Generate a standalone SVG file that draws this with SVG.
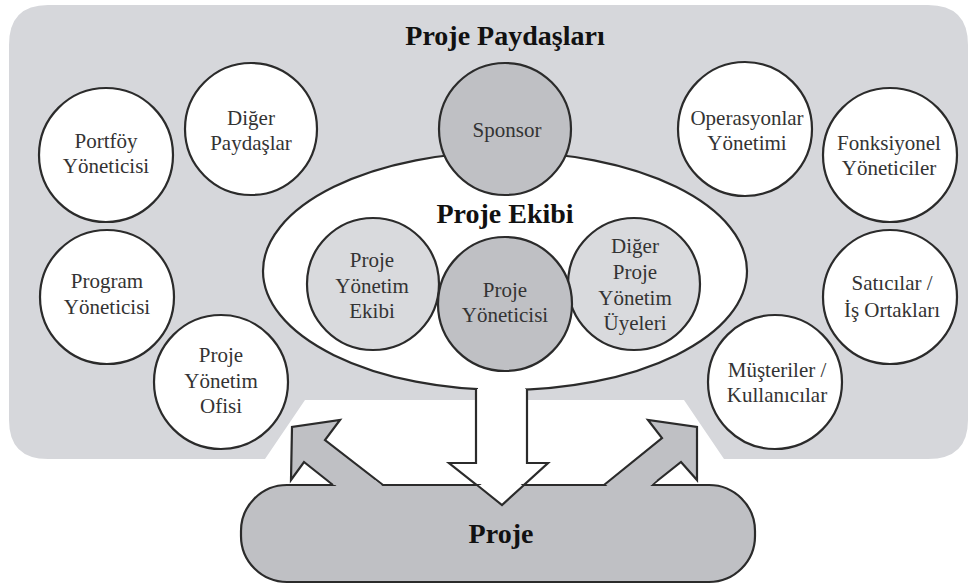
<svg xmlns="http://www.w3.org/2000/svg" width="973" height="588" viewBox="0 0 973 588">
  <style>
    .ring { stroke: #2b2b2b; stroke-width: 2.2; }
    .white { fill: #ffffff; }
    .mid { fill: #bfc0c4; }
    .light { fill: #d9dadd; }
    text { font-family: "Liberation Serif", "Times New Roman", Times, "Noto Serif", "DejaVu Serif", "FreeSerif", Georgia, serif; }
    .lbl { font-size: 21px; fill: #333333; text-anchor: middle; }
    .title { font-size: 28px; font-weight: bold; fill: #111111; text-anchor: middle; }
  </style>

  <rect width="973" height="588" fill="#ffffff"/>

  <!-- stakeholder area with the notch above the project bar -->
  <path id="stakeholder-area" fill="#d6d7db"
        d="M48,5 H928 Q968,5 968,45 V420 Q968,459 928,459 H724 L684,400 H305 L265,459 H48 Q9,459 9,420 V45 Q9,5 48,5 Z"/>
  <text class="title" x="505" y="45">Proje Paydaşları</text>

  <!-- outer stakeholders -->
  <g id="portfoy">
    <circle class="ring white" cx="106" cy="155" r="67"/>
    <text class="lbl" x="106" y="148">Portföy</text>
    <text class="lbl" x="106" y="173">Yöneticisi</text>
  </g>
  <g id="diger-paydaslar">
    <circle class="ring white" cx="251" cy="129" r="66"/>
    <text class="lbl" x="251" y="125">Diğer</text>
    <text class="lbl" x="251" y="150">Paydaşlar</text>
  </g>
  <g id="program">
    <circle class="ring white" cx="107" cy="297" r="67"/>
    <text class="lbl" x="107" y="288">Program</text>
    <text class="lbl" x="107" y="314">Yöneticisi</text>
  </g>
  <g id="pyo">
    <circle class="ring white" cx="221" cy="382" r="67"/>
    <text class="lbl" x="221" y="362">Proje</text>
    <text class="lbl" x="221" y="388">Yönetim</text>
    <text class="lbl" x="221" y="413">Ofisi</text>
  </g>
  <g id="operasyonlar">
    <circle class="ring white" cx="745" cy="129" r="67"/>
    <text class="lbl" x="747" y="125">Operasyonlar</text>
    <text class="lbl" x="747" y="150">Yönetimi</text>
  </g>
  <g id="fonksiyonel">
    <circle class="ring white" cx="890" cy="155" r="67"/>
    <text class="lbl" x="889" y="150">Fonksiyonel</text>
    <text class="lbl" x="889" y="175">Yöneticiler</text>
  </g>
  <g id="saticilar">
    <circle class="ring white" cx="890" cy="297" r="67"/>
    <text class="lbl" x="892" y="290">Satıcılar /</text>
    <text class="lbl" x="892" y="317">İş Ortakları</text>
  </g>
  <g id="musteriler">
    <circle class="ring white" cx="775" cy="382" r="67"/>
    <text class="lbl" x="777" y="377">Müşteriler /</text>
    <text class="lbl" x="777" y="402">Kullanıcılar</text>
  </g>

  <!-- project team ellipse with its arrow down to the project -->
  <g id="proje-ekibi">
    <ellipse class="ring white" cx="505" cy="271" rx="242" ry="119"/>
    <path class="ring white" d="M476,389 V463 H449 L502,505 L548,463 H527 V389"/>
    <rect class="white" x="478" y="380" width="47" height="12"/>
    <text class="title" x="505" y="223">Proje Ekibi</text>
  </g>

  <g id="sponsor">
    <circle class="ring mid" cx="505" cy="129" r="66"/>
    <text class="lbl" x="507" y="137">Sponsor</text>
  </g>
  <g id="pye">
    <circle class="ring light" cx="373" cy="284" r="66"/>
    <text class="lbl" x="372" y="267">Proje</text>
    <text class="lbl" x="372" y="293">Yönetim</text>
    <text class="lbl" x="372" y="318">Ekibi</text>
  </g>
  <g id="diger-uyeler">
    <circle class="ring light" cx="634" cy="284" r="66"/>
    <text class="lbl" x="635" y="253">Diğer</text>
    <text class="lbl" x="635" y="279">Proje</text>
    <text class="lbl" x="635" y="305">Yönetim</text>
    <text class="lbl" x="635" y="330">Üyeleri</text>
  </g>
  <g id="proje-yoneticisi">
    <circle class="ring mid" cx="505" cy="304" r="67"/>
    <text class="lbl" x="505" y="297">Proje</text>
    <text class="lbl" x="505" y="322">Yöneticisi</text>
  </g>

  <!-- project bar with the two feedback arrows fused to it -->
  <g id="proje">
    <rect class="ring mid" x="241" y="485" width="514" height="97" rx="46" ry="46"/>
    <g id="connectors">
      <path class="ring mid" d="M333,485 L304,462 L291,480 L292,427 L340,420 L325,440 L383,485"/>
      <path class="ring mid" d="M604,485 L662,438 L648,420 L697,427 L697,480 L681,462 L652,485"/>
      <polygon class="mid" points="329,480 375,480 385,488 339,488"/>
      <polygon class="mid" points="613,480 657,480 648,488 604,488"/>
    </g>
    <path class="ring white" d="M477,485 L502,505 L524,485"/>
    <polygon class="white" points="478,482 524,482 502,502"/>
    <text class="title" x="501" y="543">Proje</text>
  </g>
</svg>
